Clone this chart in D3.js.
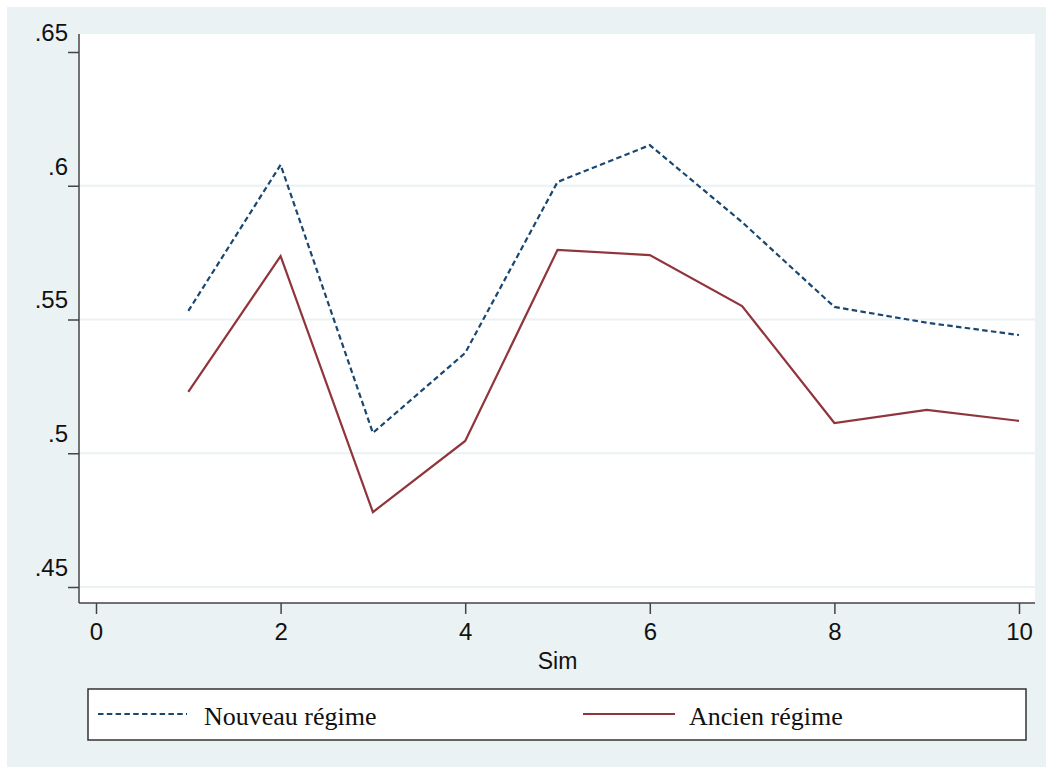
<!DOCTYPE html>
<html><head><meta charset="utf-8">
<script src="https://cdn.jsdelivr.net/npm/d3@7"></script>
<style>body{margin:0;background:#fff}</style>
</head><body>
<svg id="c" width="1053" height="774"></svg>
<script>
const sims = [1,2,3,4,5,6,7,8,9,10];
const nouveau = [0.5532,0.6078,0.5076,0.5375,0.6014,0.6152,0.5864,0.5547,0.5488,0.5442];
const ancien  = [0.5229,0.5737,0.4780,0.5046,0.5760,0.5741,0.5550,0.5113,0.5162,0.5121];
const yTicks = [0.45,0.5,0.55,0.6,0.65];
const yTickLabels = [".45",".5",".55",".6",".65"];
const xTicks = [0,2,4,6,8,10];
const seriesNames = ["Nouveau régime","Ancien régime"];

const svg = d3.select("#c");
const bg = "#eaf2f3";
svg.append("rect").attr("x",7).attr("y",7).attr("width",1039).attr("height",760).attr("fill",bg);

const plot = {left:79, right:1035, top:34, bottom:603};
svg.append("rect").attr("x",plot.left).attr("y",plot.top)
  .attr("width",plot.right-plot.left).attr("height",plot.bottom-plot.top).attr("fill","#fff");

const x = d3.scaleLinear().domain([0,10]).range([96,1019]);
const y = d3.scaleLinear().domain([0.45,0.65]).range([587,52]);

// gridlines
svg.append("g").selectAll("line").data(yTicks.filter(t=>t<0.64)).join("line")
  .attr("x1",plot.left).attr("x2",plot.right)
  .attr("y1",d=>y(d)).attr("y2",d=>y(d))
  .attr("stroke",bg).attr("stroke-width",2);

// y axis
const yAxis = d3.axisLeft(y).tickValues(yTicks).tickFormat((d,i)=>yTickLabels[i]).tickSize(11).tickSizeOuter(0);
const gy = svg.append("g").attr("transform",`translate(${plot.left},0)`).call(yAxis);
gy.select(".domain").remove();
gy.append("line").attr("x1",0).attr("x2",0).attr("y1",plot.top).attr("y2",plot.bottom).attr("stroke","#444").attr("stroke-width",1.5);
gy.selectAll(".tick line").attr("stroke","#444").attr("stroke-width",1.5);
gy.selectAll(".tick text").attr("font-family","Liberation Sans, Arial, sans-serif").attr("font-size",24)
  .attr("fill","#111").attr("x",-11).attr("dy","-0.48em");

// x axis
const xAxis = d3.axisBottom(x).tickValues(xTicks).tickSize(11).tickSizeOuter(0);
const gx = svg.append("g").attr("transform",`translate(0,${plot.bottom})`).call(xAxis);
gx.select(".domain").remove();
gx.append("line").attr("x1",plot.left).attr("x2",plot.right).attr("y1",0).attr("y2",0).attr("stroke","#444").attr("stroke-width",1.5);
gx.selectAll(".tick line").attr("stroke","#444").attr("stroke-width",1.5);
gx.selectAll(".tick text").attr("font-family","Liberation Sans, Arial, sans-serif").attr("font-size",24)
  .attr("fill","#111").attr("y",20);

svg.append("text").attr("x",(x(0)+x(10))/2).attr("y",669).attr("text-anchor","middle")
  .attr("font-family","Liberation Sans, Arial, sans-serif").attr("font-size",23).attr("fill","#111").text("Sim");

// lines
const line = d3.line().x((d,i)=>x(sims[i])).y(d=>y(d));
svg.append("path").datum(nouveau).attr("d",line).attr("fill","none")
  .attr("stroke","#1a476f").attr("stroke-width",2.2).attr("stroke-dasharray","5.5,3.3");
svg.append("path").datum(ancien).attr("d",line).attr("fill","none")
  .attr("stroke","#90353b").attr("stroke-width",2.2);

// legend
svg.append("rect").attr("x",88).attr("y",689).attr("width",938).attr("height",51)
  .attr("fill","#fff").attr("stroke","#333").attr("stroke-width",1.5);
const leg = [{x1:98,x2:187,tx:204,color:"#1a476f",dash:"5.5,3.3"},{x1:583,x2:675,tx:689,color:"#90353b",dash:null}];
leg.forEach((l,i)=>{
  svg.append("line").attr("x1",l.x1).attr("x2",l.x2).attr("y1",714).attr("y2",714)
    .attr("stroke",l.color).attr("stroke-width",2.2).attr("stroke-dasharray",l.dash);
  svg.append("text").attr("x",l.tx).attr("y",725).attr("font-family","Liberation Serif, Times New Roman, serif")
    .attr("font-size",26).attr("fill","#111").text(seriesNames[i]);
});
</script>
</body></html>
